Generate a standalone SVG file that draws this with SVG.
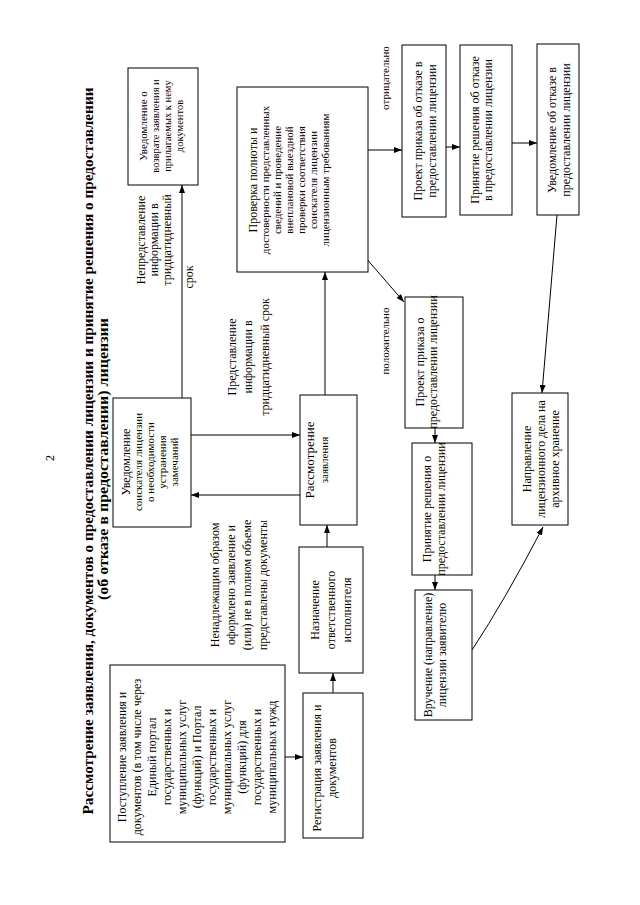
<svg xmlns="http://www.w3.org/2000/svg" width="640" height="905" viewBox="0 0 640 905">
<style>
.b{fill:#fff;stroke:#000;stroke-width:1}
.t{font-family:"Liberation Serif","Times New Roman",serif;font-size:11px;fill:#000;text-anchor:middle}
.s12{font-size:12px}
.s10{font-size:10.5px}
.ttl{font-family:"Liberation Serif","Times New Roman",serif;font-size:15px;font-weight:bold;fill:#000;text-anchor:middle}
.c{stroke:#000;stroke-width:1;fill:none;marker-end:url(#ah)}
</style>
<defs>
<marker id="ah" markerUnits="userSpaceOnUse" markerWidth="8" markerHeight="6" refX="8" refY="3" orient="auto">
<path d="M0,0 L8,3 L0,6 z" fill="#000"/>
</marker>
</defs>
<rect width="640" height="905" fill="#fff"/>
<g id="page-number"><text class="t s12" transform="translate(0,458) rotate(-90)" y="54">2</text></g>
<g id="title">
<text class="ttl" transform="translate(0,451) rotate(-90)" y="93" textLength="727" lengthAdjust="spacingAndGlyphs">Рассмотрение заявления, документов о предоставлении лицензии и принятие решения о предоставлении</text>
<text class="ttl" transform="translate(0,459) rotate(-90)" y="108" textLength="282" lengthAdjust="spacingAndGlyphs">(об отказе в предоставлении) лицензии</text>
</g>
<g id="connectors">
<line class="c" x1="285" y1="757" x2="303" y2="757"/>
<line class="c" x1="333" y1="693" x2="333" y2="673"/>
<line class="c" x1="327" y1="547" x2="327" y2="525"/>
<line class="c" x1="300" y1="495" x2="191" y2="495"/>
<line class="c" x1="191" y1="435" x2="300" y2="435"/>
<line class="c" x1="182" y1="398" x2="182" y2="185"/>
<line class="c" x1="325" y1="395" x2="325" y2="272"/>
<line class="c" x1="368" y1="150" x2="402" y2="150"/>
<line class="c" x1="446" y1="147" x2="460" y2="147"/>
<line class="c" x1="512" y1="143" x2="537" y2="143"/>
<line class="c" x1="557" y1="215" x2="542" y2="393"/>
<line class="c" x1="365" y1="257" x2="404" y2="302"/>
<line class="c" x1="435" y1="428" x2="435" y2="443"/>
<line class="c" x1="435" y1="575" x2="435" y2="590"/>
<path class="c" d="M472,650 Q505,600 543,527"/>
</g>
<g id="labels">
<text class="t s12" transform="translate(0,240) rotate(-90)"><tspan x="0" y="145">Непредставление</tspan><tspan x="0" y="158">информации в</tspan><tspan x="0" y="171">тридцатидневный</tspan></text>
<text class="t s12" transform="translate(0,277) rotate(-90)" y="193">срок</text>
<text class="t s12" transform="translate(0,357) rotate(-90)"><tspan x="0" y="236">Представление</tspan><tspan x="0" y="252">информации в</tspan><tspan x="0" y="269">тридцатидневный срок</tspan></text>
<text class="t s12" transform="translate(0,585) rotate(-90)"><tspan x="0" y="219">Ненадлежащим образом</tspan><tspan x="0" y="235">оформлено заявление и</tspan><tspan x="0" y="251">(или) не в полном объеме</tspan><tspan x="0" y="267">представлены документы</tspan></text>
<text class="t" transform="translate(0,78) rotate(-90)" y="389">отрицательно</text>
<text class="t" transform="translate(0,341) rotate(-90)" y="389">положительно</text>
</g>
<g id="n-postuplenie">
<rect class="b" x="110" y="665" width="175" height="177"/>
<text class="t s12" transform="translate(0,757) rotate(-90)"><tspan x="0" y="126">Поступление заявления и</tspan><tspan x="0" y="141">документов (в том числе через</tspan><tspan x="0" y="156">Единый портал</tspan><tspan x="0" y="171">государственных и</tspan><tspan x="0" y="186">муниципальных услуг</tspan><tspan x="0" y="201">(функций) и Портал</tspan><tspan x="0" y="216">государственных и</tspan><tspan x="0" y="231">муниципальных услуг</tspan><tspan x="0" y="246">(функций) для</tspan><tspan x="0" y="261">государственных и</tspan><tspan x="0" y="276">муниципальных нужд</tspan></text>
</g>
<g id="n-registratsiya">
<rect class="b" x="303" y="693" width="60" height="145"/>
<text class="t s12" transform="translate(0,768) rotate(-90)"><tspan x="0" y="321">Регистрация заявления и</tspan><tspan x="0" y="336">документов</tspan></text>
</g>
<g id="n-naznachenie">
<rect class="b" x="299" y="547" width="64" height="126"/>
<text class="t s12" transform="translate(0,610) rotate(-90)"><tspan x="0" y="319">Назначение</tspan><tspan x="0" y="335">ответственного</tspan><tspan x="0" y="351">исполнителя</tspan></text>
</g>
<g id="n-rassmotrenie">
<rect class="b" x="300" y="395" width="57" height="130"/>
<text class="t" transform="translate(0,460) rotate(-90)"><tspan x="0" y="314" style="font-size:13px">Рассмотрение</tspan><tspan x="0" y="328">заявления</tspan></text>
</g>
<g id="n-uved-soisk">
<rect class="b" x="113" y="398" width="78" height="129"/>
<text class="t" transform="translate(0,462) rotate(-90)"><tspan x="0" y="130" style="font-size:12px">Уведомление</tspan><tspan x="0" y="142">соискателя лицензии</tspan><tspan x="0" y="154">о необходимости</tspan><tspan x="0" y="166">устранения</tspan><tspan x="0" y="178">замечаний</tspan></text>
</g>
<g id="n-uved-vozvrat">
<rect class="b" x="128" y="68" width="70" height="117"/>
<text class="t s10" transform="translate(0,126) rotate(-90)"><tspan x="0" y="147" style="font-size:11px">Уведомление о</tspan><tspan x="0" y="159">возврате заявления и</tspan><tspan x="0" y="171">прилагаемых к нему</tspan><tspan x="0" y="183">документов</tspan></text>
</g>
<g id="n-proverka">
<rect class="b" x="237" y="87" width="131" height="185"/>
<text class="t" transform="translate(0,180) rotate(-90)"><tspan x="0" y="257" style="font-size:12px">Проверка полноты и</tspan><tspan x="0" y="269">достоверности представленных</tspan><tspan x="0" y="281">сведений и проведение</tspan><tspan x="0" y="293">внеплановой выездной</tspan><tspan x="0" y="305">проверки соответствия</tspan><tspan x="0" y="317">соискателя лицензии</tspan><tspan x="0" y="329">лицензионным требованиям</tspan></text>
</g>
<g id="n-proekt-otkaz">
<rect class="b" x="402" y="45" width="44" height="172"/>
<text class="t s12" transform="translate(0,131) rotate(-90)"><tspan x="0" y="422">Проект приказа об отказе в</tspan><tspan x="0" y="436">предоставлении лицензии</tspan></text>
</g>
<g id="n-prinyatie-otkaz">
<rect class="b" x="460" y="45" width="52" height="170"/>
<text class="t s12" transform="translate(0,130) rotate(-90)"><tspan x="0" y="479">Принятие решения об отказе</tspan><tspan x="0" y="492">в предоставлении лицензии</tspan></text>
</g>
<g id="n-uved-otkaz">
<rect class="b" x="537" y="44" width="42" height="171"/>
<text class="t s12" transform="translate(0,130) rotate(-90)"><tspan x="0" y="556">Уведомление об отказе в</tspan><tspan x="0" y="570">предоставлении лицензии</tspan></text>
</g>
<g id="n-proekt-predost">
<rect class="b" x="405" y="297" width="58" height="131"/>
<text class="t s12" transform="translate(0,362) rotate(-90)"><tspan x="0" y="424">Проект приказа о</tspan><tspan x="0" y="437">предоставлении лицензии</tspan></text>
</g>
<g id="n-prinyatie-predost">
<rect class="b" x="412" y="443" width="60" height="132"/>
<text class="t s12" transform="translate(0,509) rotate(-90)"><tspan x="0" y="431">Принятие решения о</tspan><tspan x="0" y="445">предоставлении лицензии</tspan></text>
</g>
<g id="n-vruchenie">
<rect class="b" x="415" y="590" width="57" height="130"/>
<text class="t s12" transform="translate(0,655) rotate(-90)"><tspan x="0" y="432">Вручение (направление)</tspan><tspan x="0" y="446">лицензии заявителю</tspan></text>
</g>
<g id="n-napravlenie">
<rect class="b" x="512" y="393" width="56" height="132"/>
<text class="t s12" transform="translate(0,459) rotate(-90)"><tspan x="0" y="531">Направление</tspan><tspan x="0" y="545">лицензионного дела на</tspan><tspan x="0" y="559">архивное хранение</tspan></text>
</g>
</svg>
